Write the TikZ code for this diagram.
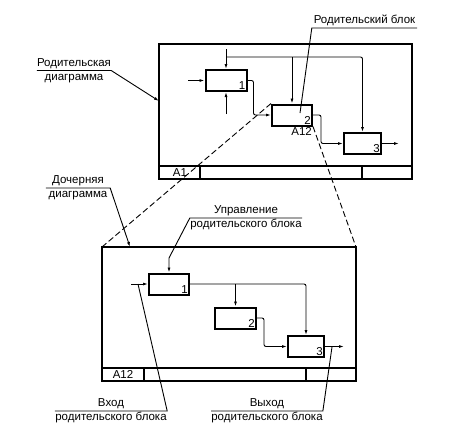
\documentclass[tikz,border=0pt]{standalone}
\usepackage{fontspec}
\setmainfont{Liberation Sans}
\usetikzlibrary{arrows.meta}

\begin{document}
\begin{tikzpicture}[x=1pt,y=-1pt,
    font=\fontsize{11.5}{14}\selectfont,
    block/.style={draw, line width=2pt, inner sep=0pt, minimum width=40pt, minimum height=21pt},
    num/.style={label={[anchor=south east, inner sep=2pt]south east:#1}},
    flow/.style={line width=0.9pt, -{Latex[length=5pt,width=3pt]}, rounded corners=2pt},
    frame/.style={line width=2pt},
    leader/.style={line width=0.9pt},
    pointer/.style={leader, -{Latex[length=5pt,width=3pt]}},
    shelf/.style={inner sep=0pt, minimum width=#1, align=center},
    zoom/.style={line width=0.9pt, dash pattern=on 6pt off 3pt}]
    \useasboundingbox (0,0) rectangle (450,440);

    % parent diagram
    \coordinate (pfa) at (159,44);
    \coordinate (pfb) at (412,179);
    \draw[frame] (pfa) rectangle (pfb);
    \draw[frame] (159,166) -- (412,166) (200,166) -- (200,179) (362,166) -- (362,179);
    \node at (180,172.5) {A1};

    \node[block, num=1, minimum width=41pt] (pb1) at (226,80.5) {};
    \node[block, num=2, label={[anchor=north east, inner sep=1pt]south east:A12}] (pb2) at (292,115) {};
    \node[block, num=3, minimum width=37pt] (pb3) at (362.5,143.5) {};

    \coordinate (pin) at (188,80.5);
    \coordinate (pctl) at (226,49);
    \coordinate (pbus) at (226,57);
    \coordinate (pmech) at (226,114);
    \draw[flow] (pin) -- (pb1.west);
    \draw[flow] (pctl) -- (pb1.north);
    \draw[flow] (pbus) -| (pb3.north);
    \draw[flow] (pb2.north |- pbus) -- (pb2.north);
    \draw[flow] (pmech) -- (pb1.south);
    \draw[flow] (pb1.east) -- ++(6,0) |- (pb2.west);
    \draw[flow] (pb2.east) -- ++(8,0) |- (pb3.west);
    \draw[flow] (pb3.east) -- ++(17,0);

    % child diagram
    \coordinate (cfa) at (102,247);
    \coordinate (cfb) at (356,381);
    \coordinate (cfc) at (356,247);
    \draw[frame] (cfa) rectangle (cfb);
    \draw[frame] (102,368) -- (356,368) (144,368) -- (144,381) (306,368) -- (306,381);
    \node at (123,374.5) {A12};

    \node[block, num=1] (cb1) at (169,284) {};
    \node[block, num=2, minimum width=41pt] (cb2) at (235.5,318) {};
    \node[block, num=3, minimum width=36pt] (cb3) at (306,346.5) {};

    \coordinate (cin) at (131,284);
    \draw[flow] (cin) -- (cb1.west);
    \draw[flow] (cb1.east) -| (cb3.north);
    \draw[flow] (cb2.north |- cb1.east) -- (cb2.north);
    \draw[flow] (cb2.east) -- ++(7,0) |- (cb3.west);
    \draw[flow] (cb3.east) -- ++(19,0);

    % zoom lines
    \draw[zoom] (pb2.north west) -- (cfa);
    \draw[zoom] (pb2.south east) -- (cfc);

    % callouts
    \node[shelf=72pt] (plab) at (74,70.5) {Родительская\\диаграмма};
    \coordinate (pfin) at (159,101);
    \draw[pointer] (plab.west) -- (plab.east) -- (pfin);

    \node[shelf=105pt, inner ysep=2pt, anchor=south] (rb) at (364.5,28) {Родительский блок};
    \draw[leader] (rb.south east) -- (rb.south west) -- ([xshift=8pt,yshift=2pt]pb2.center);

    \node[shelf=64pt] (dlab) at (78,188) {Дочерняя\\диаграмма};
    \coordinate (cfarr) at (130,247);
    \draw[pointer] (dlab.west) -- (dlab.east) -- (cfarr);

    \node[shelf=112pt] (ulab) at (246,218) {Управление\\родительского блока};
    \coordinate (ubend) at (169,258);
    \draw[pointer] (ulab.east) -- (ulab.west) -- (ubend) -- (cb1.north);

    \node[shelf=112pt] (vlab) at (111,411) {Вход\\родительского блока};
    \coordinate (vend) at (138,284);
    \draw[leader] (vlab.west) -- (vlab.east) -- (vend);

    \node[shelf=110pt] (wlab) at (267,411) {Выход\\родительского блока};
    \coordinate (wend) at (332,347);
    \draw[leader] (wlab.west) -- (wlab.east) -- (wend);
\end{tikzpicture}
\end{document}
